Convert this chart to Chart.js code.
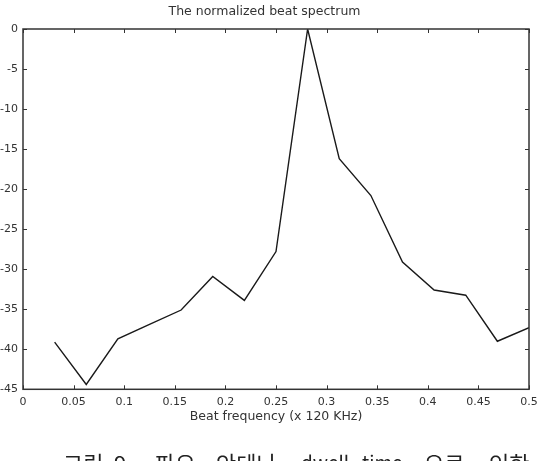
<!DOCTYPE html>
<html>
<head>
<meta charset="utf-8">
<script src="https://cdn.jsdelivr.net/npm/chart.js@4.4.0/dist/chart.umd.min.js"></script>
<style>
  html, body { margin: 0; padding: 0; background: #fff; overflow: hidden; }
  #wrap { position: relative; width: 550px; height: 461px; }
  #caption span {
    position: absolute; top: 451px;
    font-family: "Noto Sans CJK KR", "Noto Sans", sans-serif;
    font-size: 22px; line-height: 1; color: #222;
    white-space: nowrap;
  }
  #caption span.latin { font-size: 19px; top: 452px; }
</style>
</head>
<body>
<div id="wrap">
  <canvas id="chart" width="550" height="461"></canvas>
  <div id="caption">
    <span style="left:63px">그림</span>
    <span style="left:114px">9.</span>
    <span style="left:155px">파요</span>
    <span style="left:216px">안테나</span>
    <span class="latin" style="left:301px">dwell</span>
    <span class="latin" style="left:362px">time</span>
    <span style="left:424px">으로</span>
    <span style="left:489px">인한</span>
  </div>
</div>
<script>
// --- data ---
const freqs = [0.03125, 0.0625, 0.09375, 0.125, 0.15625, 0.1875, 0.21875, 0.25,
               0.28125, 0.3125, 0.34375, 0.375, 0.40625, 0.4375, 0.46875, 0.5];
const levels = [-39.1, -44.4, -38.7, -36.9, -35.1, -30.9, -33.9, -27.8,
                0, -16.2, -20.8, -29.1, -32.6, -33.25, -39.0, -37.3];
const xTicks = [0, 0.05, 0.1, 0.15, 0.2, 0.25, 0.3, 0.35, 0.4, 0.45, 0.5];
const yTicks = [0, -5, -10, -15, -20, -25, -30, -35, -40, -45];

const axisColor = '#333333';
const textColor = '#333333';
const fontFamily = "'DejaVu Sans', Verdana, sans-serif";

// draws the MATLAB-style box with ticks pointing inwards on all four sides
const boxTicks = {
  id: 'boxTicks',
  afterDraw(chart) {
    const { ctx, chartArea: a, scales: { x, y } } = chart;
    const len = 4;
    ctx.save();
    ctx.strokeStyle = axisColor;
    ctx.lineWidth = 1;
    ctx.beginPath();
    xTicks.forEach(v => {
      const px = Math.round(x.getPixelForValue(v)) + 0.5;
      ctx.moveTo(px, a.bottom); ctx.lineTo(px, a.bottom - len);
      ctx.moveTo(px, a.top); ctx.lineTo(px, a.top + len);
    });
    yTicks.forEach(v => {
      const py = Math.round(y.getPixelForValue(v)) + 0.5;
      ctx.moveTo(a.left, py); ctx.lineTo(a.left + len, py);
      ctx.moveTo(a.right, py); ctx.lineTo(a.right - len, py);
    });
    ctx.stroke();
    ctx.lineWidth = 1.5;
    ctx.strokeRect(a.left, a.top, a.right - a.left, a.bottom - a.top);
    ctx.restore();
  }
};

new Chart(document.getElementById('chart'), {
  type: 'line',
  data: {
    datasets: [{
      data: freqs.map((f, i) => ({ x: f, y: levels[i] })),
      borderColor: '#1a1a1a',
      borderWidth: 1.4,
      pointRadius: 0,
      tension: 0,
      fill: false
    }]
  },
  options: {
    responsive: false,
    animation: false,
    layout: { padding: { top: 0, left: 0, right: 21, bottom: 34.5 } },
    plugins: {
      legend: { display: false },
      tooltip: { enabled: false },
      title: {
        display: true,
        text: 'The normalized beat spectrum',
        color: textColor,
        font: { family: fontFamily, size: 12.5, weight: 'normal' },
        padding: { top: 4, bottom: 10 }
      }
    },
    scales: {
      x: {
        type: 'linear',
        min: 0, max: 0.5,
        afterBuildTicks: s => { s.ticks = xTicks.map(v => ({ value: v })); },
        ticks: {
          color: textColor, padding: 6, maxRotation: 0, autoSkip: false,
          font: { family: fontFamily, size: 11 },
          callback: v => String(v)
        },
        grid: { display: false, drawTicks: false },
        border: { display: false },
        title: {
          display: true,
          text: 'Beat frequency (x 120 KHz)',
          color: textColor,
          font: { family: fontFamily, size: 12.5 },
          padding: { top: -5, bottom: 2 }
        }
      },
      y: {
        type: 'linear',
        min: -45, max: 0,
        afterBuildTicks: s => { s.ticks = yTicks.map(v => ({ value: v })); },
        afterFit: s => { s.width = 23; },
        ticks: {
          color: textColor, padding: 5, autoSkip: false,
          font: { family: fontFamily, size: 11 },
          callback: v => String(v)
        },
        grid: { display: false, drawTicks: false },
        border: { display: false }
      }
    }
  },
  plugins: [boxTicks]
});
</script>
</body>
</html>
